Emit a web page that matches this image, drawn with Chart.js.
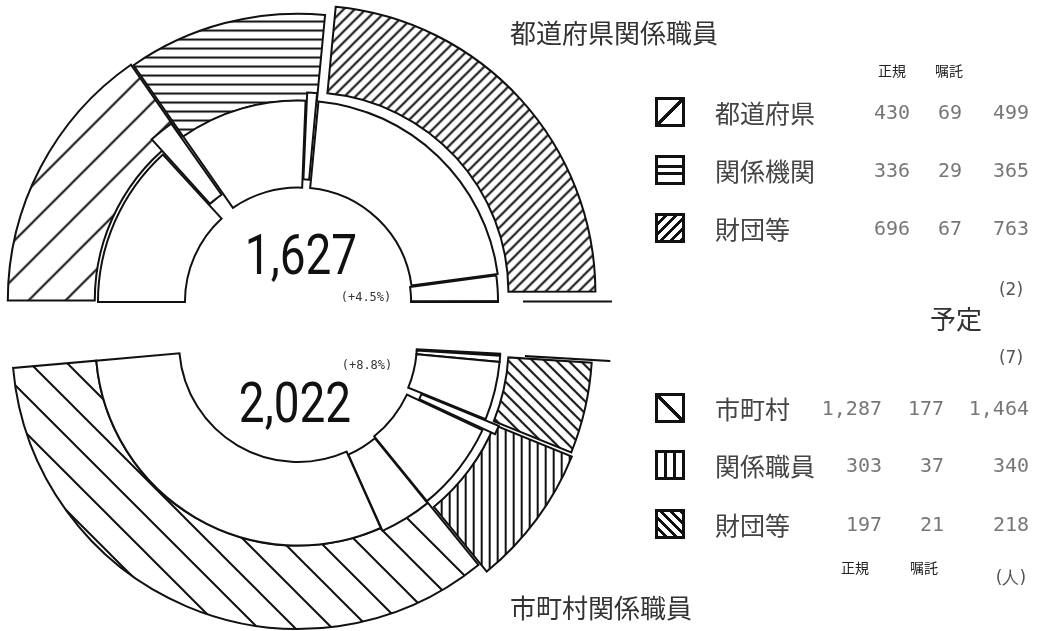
<!DOCTYPE html>
<html>
<head>
<meta charset="utf-8">
<script src="https://cdn.jsdelivr.net/npm/chart.js"></script>
<style>
  html, body { margin: 0; padding: 0; background: #fff; width: 1037px; height: 631px; overflow: hidden; }
  #wrap { position: relative; width: 1037px; height: 631px; overflow: hidden; }
  canvas.pie { position: absolute; left: 0; top: 0; width: 1037px; height: 700px; }
  .t { position: absolute; white-space: nowrap; line-height: 1; transform: translateY(-50%); }
  .jp { font-family: "Noto Sans CJK JP", sans-serif; color: #333; }
  .title { font-size: 26px; }
  .cat { font-size: 25px; color: #444; }
  .head { font-size: 14px; color: #222; }
  .num { font-family: "DejaVu Sans Mono", monospace; font-size: 20px; color: #777; }
  .big { font-family: Roboto, sans-serif; font-size: 56px; color: #111; }
  .pct { font-family: "DejaVu Sans Mono", monospace; font-size: 12px; color: #333; }
  .paren { font-family: "DejaVu Sans", sans-serif; font-size: 17px; color: #555; }
  .sw { position: absolute; width: 24px; height: 24px; border: 3px solid #111; background-color: #fff; transform: translateY(-50%); }
</style>
</head>
<body>
<div id="wrap">
  <canvas id="upper" class="pie" width="1037" height="700"></canvas>
  <canvas id="lower" class="pie" width="1037" height="700"></canvas>
  <div id="labels"></div>
</div>
<script>
// 都道府県関係職員
const prefLabels = ['都道府県', '関係機関', '財団等'];
const prefRegular = [430, 336, 696];
const prefShokutaku = [69, 29, 67];
const prefTotal = [499, 365, 763];
const prefPlanned = 2;
const prefSum = '1,627';
const prefGrowth = '(+4.5%)';

// 市町村関係職員
const muniLabels = ['市町村', '関係職員', '財団等'];
const muniRegular = [1287, 303, 197];
const muniShokutaku = [177, 37, 21];
const muniTotal = [1464, 340, 218];
const muniPlanned = 7;
const muniSum = '2,022';
const muniGrowth = '(+8.8%)';

const colHeads = ['正規', '嘱託'];

function hatch(kind, gap, lw) {
  const c = document.createElement('canvas');
  c.width = gap; c.height = gap;
  const g = c.getContext('2d');
  g.fillStyle = '#fff';
  g.fillRect(0, 0, gap, gap);
  g.strokeStyle = '#111';
  g.lineWidth = lw;
  g.beginPath();
  if (kind === 'h') { g.moveTo(0, gap / 2); g.lineTo(gap, gap / 2); }
  else if (kind === 'v') { g.moveTo(gap / 2, 0); g.lineTo(gap / 2, gap); }
  else if (kind === '/') {
    g.moveTo(0, gap); g.lineTo(gap, 0);
    g.moveTo(-gap / 2, gap / 2); g.lineTo(gap / 2, -gap / 2);
    g.moveTo(gap / 2, gap * 1.5); g.lineTo(gap * 1.5, gap / 2);
  } else {
    g.moveTo(0, 0); g.lineTo(gap, gap);
    g.moveTo(gap / 2, -gap / 2); g.lineTo(gap * 1.5, gap / 2);
    g.moveTo(-gap / 2, gap / 2); g.lineTo(gap / 2, gap * 1.5);
  }
  g.stroke();
  return g.createPattern(c, 'repeat');
}

function makeRing(id, cx, cy, R, cut, rot, circ, outer, inner) {
  const chart = new Chart(document.getElementById(id), {
    type: 'doughnut',
    data: {
      datasets: [
        { data: outer.data, backgroundColor: outer.fill, borderColor: '#111', borderWidth: 2,
          borderJoinStyle: 'miter', offset: outer.offset, order: 1, clip: false },
        { data: inner.data, backgroundColor: inner.fill, borderColor: '#111', borderWidth: 2,
          borderJoinStyle: 'miter', offset: inner.offset, order: 0, clip: false }
      ]
    },
    options: {
      responsive: false,
      animation: false,
      events: [],
      radius: R,
      cutout: cut,
      rotation: rot,
      circumference: circ,
      layout: { padding: 0 },
      plugins: { legend: { display: false }, tooltip: { enabled: false } }
    }
  });
  // move the ring centre to where it sits in the picture
  const a = chart.getDatasetMeta(0).data[0];
  const dx = cx - a.x, dy = cy - a.y;
  chart.options.layout.padding = {
    left: Math.max(0, 2 * dx), right: Math.max(0, -2 * dx),
    top: Math.max(0, 2 * dy), bottom: Math.max(0, -2 * dy)
  };
  chart.update();
  return chart;
}

// upper half: clockwise from the left
const upOuterData = prefTotal.concat([prefPlanned]);
const upInnerData = [];
prefRegular.forEach((v, i) => upInnerData.push(v, prefShokutaku[i]));
upInnerData.push(prefPlanned);

makeRing('upper', 298, 302, 287, '39.4%', -90, 180,
  { data: upOuterData,
    fill: [hatch('/', 37, 2), hatch('h', 9, 2), hatch('/', 11, 2), '#111'],
    offset: [12, 4, 56, 52] },
  { data: upInnerData,
    fill: ['#fff', '#fff', '#fff', '#fff', '#fff', '#fff', '#111'],
    offset: [0, 40, 4, 20, 8, 0, 0] });

// lower half: clockwise from the right, so the order is reversed
const lowOuterData = [muniPlanned].concat(muniTotal.slice().reverse());
const lowInnerData = [muniPlanned];
for (let i = muniRegular.length - 1; i >= 0; i--) lowInnerData.push(muniShokutaku[i], muniRegular[i]);

makeRing('lower', 298, 343, 286, '41.6%', 93, 172,
  { data: lowOuterData,
    fill: ['#111', hatch('\\', 12, 2), hatch('v', 8, 2), hatch('\\', 37, 2)],
    offset: [52, 20, 28, 0] },
  { data: lowInnerData,
    fill: ['#111', '#fff', '#fff', '#fff', '#fff', '#fff', '#fff'],
    offset: [0, 0, 0, 30, 4, 8, 0] });

// texts
const box = document.getElementById('labels');
function put(text, x, y, cls, align, extra) {
  const d = document.createElement('div');
  d.className = 't ' + cls;
  d.textContent = text;
  d.style.left = x + 'px';
  d.style.top = y + 'px';
  let tf = 'translateY(-50%)';
  if (align === 'right') tf = 'translate(-100%,-50%)';
  if (align === 'center') tf = 'translate(-50%,-50%)';
  d.style.transform = tf + (extra || '');
  box.appendChild(d);
}
function swatch(x, y, bg) {
  const d = document.createElement('div');
  d.className = 'sw';
  d.style.left = x + 'px';
  d.style.top = y + 'px';
  d.style.backgroundImage = bg;
  box.appendChild(d);
}
const fmt = v => v.toLocaleString('en-US');

put('都道府県関係職員', 510, 32, 'jp title');
put('市町村関係職員', 510, 607, 'jp title');

put(prefSum, 301, 255, 'big', 'center', ' scaleX(0.82)');
put(prefGrowth, 366, 297, 'pct', 'center');
put(muniSum, 295, 403, 'big', 'center', ' scaleX(0.82)');
put(muniGrowth, 367, 365, 'pct', 'center');

const upSw = [
  'linear-gradient(to bottom right, transparent 45%, #111 45%, #111 55%, transparent 55%)',
  'linear-gradient(to bottom, transparent 29%, #111 29%, #111 40%, transparent 40%, transparent 60%, #111 60%, #111 71%, transparent 71%)',
  'repeating-linear-gradient(135deg, #fff 0px, #fff 4px, #111 4px, #111 7px)'
];
const lowSw = [
  'linear-gradient(to top right, transparent 45%, #111 45%, #111 55%, transparent 55%)',
  'linear-gradient(to right, transparent 25%, #111 25%, #111 38%, transparent 38%, transparent 62%, #111 62%, #111 75%, transparent 75%)',
  'repeating-linear-gradient(45deg, #fff 0px, #fff 4px, #111 4px, #111 7px)'
];

put(colHeads[0], 892, 70, 'jp head', 'center');
put(colHeads[1], 949, 70, 'jp head', 'center');
const upRows = [112, 170, 228];
prefLabels.forEach((lab, i) => {
  swatch(655, upRows[i], upSw[i]);
  put(lab, 715, upRows[i], 'jp cat');
  put(fmt(prefRegular[i]), 910, upRows[i], 'num', 'right');
  put(fmt(prefShokutaku[i]), 962, upRows[i], 'num', 'right');
  put(fmt(prefTotal[i]), 1029, upRows[i], 'num', 'right');
});
put('(' + prefPlanned + ')', 1011, 289, 'paren', 'center');
put('予定', 956, 318, 'jp title', 'center');
put('(' + muniPlanned + ')', 1011, 357, 'paren', 'center');

const lowRows = [408, 465, 524];
muniLabels.forEach((lab, i) => {
  swatch(655, lowRows[i], lowSw[i]);
  put(lab, 715, lowRows[i], 'jp cat');
  put(fmt(muniRegular[i]), 882, lowRows[i], 'num', 'right');
  put(fmt(muniShokutaku[i]), 944, lowRows[i], 'num', 'right');
  put(fmt(muniTotal[i]), 1029, lowRows[i], 'num', 'right');
});
put(colHeads[0], 855, 567, 'jp head', 'center');
put(colHeads[1], 924, 567, 'jp head', 'center');
put('(人)', 1011, 577, 'jp paren', 'center');
</script>
</body>
</html>
